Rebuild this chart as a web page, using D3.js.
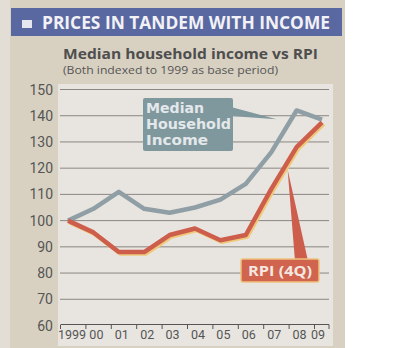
<!DOCTYPE html>
<html><head><meta charset="utf-8">
<script src="https://cdn.jsdelivr.net/npm/d3@7"></script>
<style>body{margin:0;background:#fff}svg{display:block}</style>
</head><body>
<script>
const years = ["1999","00","01","02","03","04","05","06","07","08","09"];
const income = [100,104.5,111,104.5,103,105,108,114,126,142,138.5];
const rpi = [100,95.5,88,88,94.5,97,92.5,94.5,112,128,137.5];
const yTicks = [60,70,80,90,100,110,120,130,140,150];
const title = "PRICES IN TANDEM WITH INCOME";
const subtitle = "Median household income vs RPI";
const note = "(Both indexed to 1999 as base period)";
const incomeLabel = ["Median","Household","Income"];
const rpiLabel = "RPI (4Q)";

const W = 400, H = 348;
const svg = d3.select("body").append("svg").attr("width",W).attr("height",H);

// clipping background
svg.append("rect").attr("x",0).attr("y",0).attr("width",345).attr("height",H).attr("fill","#d8d1c2");
svg.append("rect").attr("x",0).attr("y",0).attr("width",10).attr("height",H).attr("fill","#e2ded6");
svg.append("rect").attr("x",58).attr("y",84).attr("width",275).attr("height",262).attr("fill","#e8e5e0");

// title bar
svg.append("rect").attr("x",11).attr("y",8).attr("width",331).attr("height",28).attr("fill","#5a68a2");
svg.append("rect").attr("x",22).attr("y",20).attr("width",10).attr("height",8).attr("fill","#e6e6ee");
svg.append("text").attr("x",42).attr("y",29).attr("fill","#f2f2f6")
  .attr("font-family","'Open Sans', 'DejaVu Sans', sans-serif").attr("font-weight","bold")
  .attr("font-size",18).attr("textLength",288).attr("lengthAdjust","spacingAndGlyphs").text(title);

svg.append("text").attr("x",63).attr("y",59).attr("fill","#4e4e4e")
  .attr("font-family","'Open Sans', sans-serif").attr("font-weight","bold")
  .attr("font-size",14).attr("textLength",255).attr("lengthAdjust","spacingAndGlyphs").text(subtitle);
svg.append("text").attr("x",63).attr("y",74).attr("fill","#555")
  .attr("font-family","'Open Sans', sans-serif")
  .attr("font-size",11.5).attr("textLength",215).attr("lengthAdjust","spacingAndGlyphs").text(note);

const x = d3.scalePoint().domain(years).range([68,322]);
const y = d3.scaleLinear().domain([60,150]).range([325.5,89.5]);

// gridlines
svg.append("g").selectAll("line").data(yTicks.filter(d=>d>60)).join("line")
  .attr("x1",60).attr("x2",329).attr("y1",d=>y(d)).attr("y2",d=>y(d))
  .attr("stroke","#8a8682").attr("stroke-width",1);

// y labels
svg.append("g").selectAll("text").data(yTicks).join("text")
  .attr("x",53).attr("y",d=>y(d)+5).attr("text-anchor","end")
  .attr("font-family","'Liberation Sans Narrow','Roboto',sans-serif").attr("font-size",14)
  .attr("fill","#555").text(d=>d);

// x axis
const ax = svg.append("g");
ax.append("line").attr("x1",61).attr("x2",329).attr("y1",y(60)-1).attr("y2",y(60)-1).attr("stroke","#555").attr("stroke-width",1.2);
ax.selectAll("line.t").data(years).join("line").attr("class","t")
  .attr("x1",d=>x(d)-7.5).attr("x2",d=>x(d)-7.5).attr("y1",y(60)-1).attr("y2",y(60)+3.5)
  .attr("stroke","#555").attr("stroke-width",1);
ax.append("line").attr("x1",329).attr("x2",329).attr("y1",y(60)-1).attr("y2",y(60)+3.5).attr("stroke","#555");
ax.selectAll("text").data(years).join("text")
  .attr("x",(d,i)=>x(d)+(i===0?4:i===years.length-1?-4:3)).attr("y",338.5).attr("text-anchor","middle")
  .attr("font-family","'Liberation Sans Narrow','Roboto',sans-serif").attr("font-size",12.5)
  .attr("fill","#555").text(d=>d);

const line = d3.line().x((d,i)=>x(years[i])).y(d=>y(d));

// callout: income
const ib = {x0:143,y0:98,x1:233,y1:151};
svg.append("path").attr("d",d3.line()([[ib.x1-2,ib.y0+9],[x("08")-20,y(138.7)],[ib.x1-2,ib.y0+18]])).attr("fill","#7f989e");
svg.append("rect").attr("x",ib.x0).attr("y",ib.y0).attr("width",ib.x1-ib.x0).attr("height",ib.y1-ib.y0).attr("rx",2).attr("fill","#7f989e");
svg.append("g").selectAll("text").data(incomeLabel).join("text")
  .attr("x",146).attr("y",(d,i)=>113+i*16).attr("fill","#e4e8ea")
  .attr("font-family","'DejaVu Sans',sans-serif").attr("font-weight","bold").attr("font-size",13.5)
  .attr("textLength",(d,i)=>[58,85,62][i]).attr("lengthAdjust","spacingAndGlyphs").text(d=>d);

// lines
svg.append("path").datum(income).attr("d",line).attr("fill","none").attr("stroke","#909fa5")
  .attr("stroke-width",4.5).attr("stroke-linejoin","round");
svg.append("path").datum(rpi).attr("d",line).attr("transform","translate(1.5,1.5)").attr("fill","none").attr("stroke","#f0c87a")
  .attr("stroke-width",4.5).attr("stroke-linejoin","round");
svg.append("path").datum(rpi).attr("d",line).attr("fill","none").attr("stroke","#cc5e4b")
  .attr("stroke-width",4.5).attr("stroke-linejoin","round");

// callout: rpi
const rb = {x0:241,y0:259,x1:319,y1:282};
svg.append("path").attr("d",d3.line()([[295,rb.y0+2],[x("08")-9,y(119.5)],[308,rb.y0+2]])).attr("fill","#cc5e4b");
svg.append("rect").attr("x",rb.x0).attr("y",rb.y0).attr("width",rb.x1-rb.x0).attr("height",rb.y1-rb.y0).attr("rx",2)
  .attr("fill","#d0644e").attr("stroke","#eec27e").attr("stroke-width",1.5);
svg.append("text").attr("x",248).attr("y",275.5).attr("fill","#f4e8e0")
  .attr("font-family","'Open Sans',sans-serif").attr("font-weight","bold").attr("font-size",15)
  .attr("textLength",64).attr("lengthAdjust","spacingAndGlyphs").text(rpiLabel);
</script>
</body></html>
